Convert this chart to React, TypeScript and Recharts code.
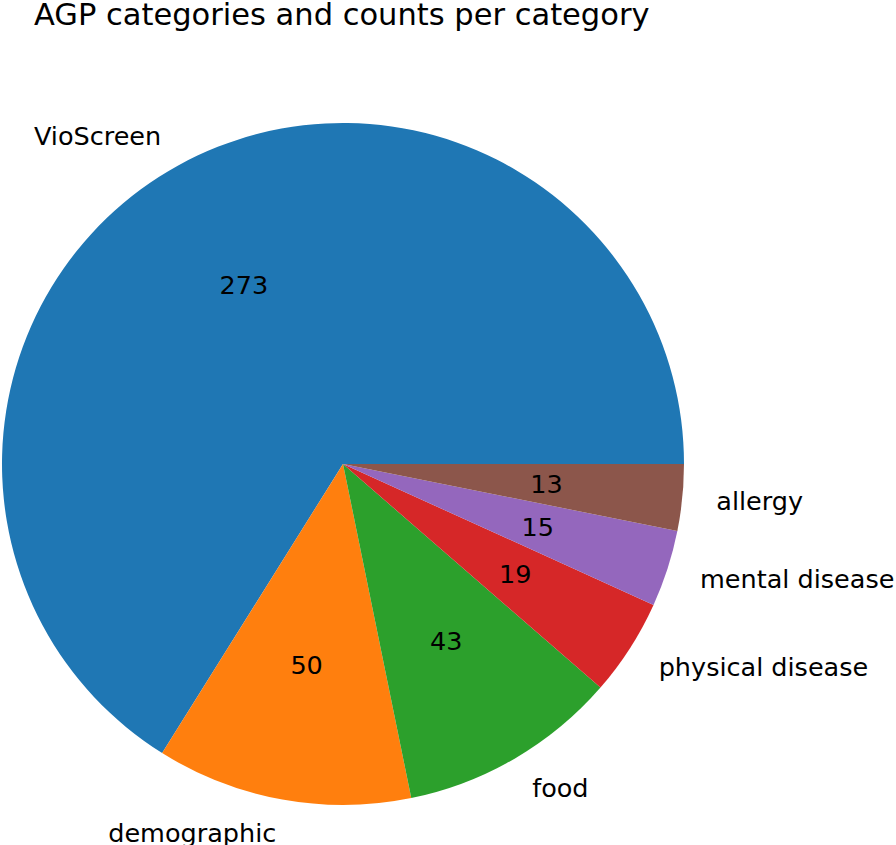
import React from "react";
import { PieChart, Pie, Cell } from "recharts";

const categories = ["VioScreen", "demographic", "food", "physical disease", "mental disease", "allergy"];
const counts = [273, 50, 43, 19, 15, 13];
const colors = ["#1f77b4", "#ff7f0e", "#2ca02c", "#d62728", "#9467bd", "#8c564b"];

const data = categories.map((name, i) => ({ name, value: counts[i] }));

const RAD = Math.PI / 180;
const FONT = "'DejaVu Sans', sans-serif";

const renderLabel = (props: any) => {
  const { cx, cy, midAngle, outerRadius, name, value } = props;
  const c = Math.cos(-midAngle * RAD);
  const s = Math.sin(-midAngle * RAD);
  const lx = cx + outerRadius * 1.1 * c;
  const ly = cy + outerRadius * 1.1 * s;
  const vx = cx + outerRadius * 0.6 * c;
  const vy = cy + outerRadius * 0.6 * s;
  return (
    <g>
      <text x={lx} y={ly} textAnchor={lx > cx ? "start" : "end"} dominantBaseline="central" fill="#000" fontSize={25.5} fontFamily={FONT}>
        {name}
      </text>
      <text x={vx} y={vy} textAnchor="middle" dominantBaseline="central" fill="#000" fontSize={25.5} fontFamily={FONT}>
        {value}
      </text>
    </g>
  );
};

export default function App() {
  return (
    <div style={{ position: "absolute", left: 0, top: 0, width: 896, height: 845, background: "#fff" }}>
      <div style={{ position: "absolute", left: 0, top: 0 }}>
        <PieChart width={896} height={845} margin={{ top: 0, right: 0, bottom: 0, left: 0 }}>
          <Pie
            data={data}
            dataKey="value"
            nameKey="name"
            cx={343}
            cy={464}
            outerRadius={341}
            startAngle={0}
            endAngle={360}
            stroke="none"
            label={renderLabel}
            labelLine={false}
            isAnimationActive={false}
          >
            {data.map((d, i) => (
              <Cell key={d.name} fill={colors[i]} />
            ))}
          </Pie>
        </PieChart>
      </div>
      <svg width={896} height={60} style={{ position: "absolute", left: 0, top: 0 }}>
        <text x={34} y={25} fontSize={30.5} fontFamily={FONT} fill="#000">
          AGP categories and counts per category
        </text>
      </svg>
    </div>
  );
}
